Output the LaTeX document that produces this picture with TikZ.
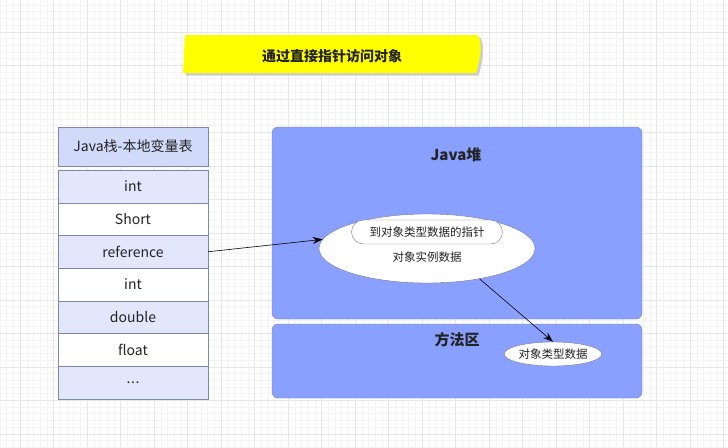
\documentclass[tikz,border=0pt]{standalone}
\usepackage{fontspec}
\setmainfont{Noto Sans CJK SC}
\usetikzlibrary{shapes.geometric, arrows.meta}

\definecolor{textgray}{RGB}{35,35,35}
\definecolor{gridminor}{RGB}{244,244,244}
\definecolor{gridmajor}{RGB}{230,230,230}
\definecolor{bannerfill}{RGB}{255,255,0}
\definecolor{shadowgray}{RGB}{205,205,205}
\definecolor{headfill}{RGB}{210,218,250}
\definecolor{rowlight}{RGB}{226,231,251}
\definecolor{stackline}{RGB}{128,134,170}
\definecolor{heapfill}{RGB}{138,160,255}
\definecolor{heapline}{RGB}{118,128,190}
\definecolor{ellline}{RGB}{120,120,140}

\newcommand\rowdots{.\kern0.6pt.\kern0.6pt.}

\begin{document}
\begin{tikzpicture}[
  x=1pt, y=-1pt,
  every node/.style={inner sep=0pt, text=textgray},
  cell/.style={draw=stackline, minimum width=150pt, minimum height=32.7pt,
    font=\fontsize{14}{16}\selectfont},
  region/.style={draw=heapline, fill=heapfill, rounded corners=6pt, minimum width=370pt},
  heading/.style={font=\bfseries\fontsize{15}{18}\selectfont},
  small/.style={font=\fontsize{11.5}{14}\selectfont},
  link/.style={-{Stealth[length=10pt, width=7pt]}, semithick, black},
]
\useasboundingbox (0,0) rectangle (728,447);

% 背景网格
\begin{scope}[shift={(20,31.7)}]
  \draw[gridminor, step=6.7pt] (-20.1,-33.5) grid (710,417);
  \draw[gridmajor, step=33.5pt] (-20.1,-33.5) grid (710,417);
\end{scope}

% 标题条
\fill[shadowgray, shift={(2.5,2.5)}] (185,35) -- (478,35) .. controls (483,45) and (480,60) .. (476,73) -- (183,73) -- cycle;
\fill[bannerfill] (185,35) -- (478,35) .. controls (483,45) and (480,60) .. (476,73) -- (183,73) -- cycle;
\node[font=\bfseries\fontsize{14}{17}\selectfont] (banner) at (332,56) {通过直接指针访问对象};

% Java栈
\node[cell, fill=headfill, minimum height=39pt] (stackhead) at (133,146.5) {Java栈-本地变量表};
\foreach \txt/\col [count=\i] in {int/rowlight, Short/white, reference/rowlight,
    int/white, double/rowlight, float/white, \rowdots/rowlight}
  \node[cell, fill=\col] (row\i) at (133, {170+(\i-0.5)*32.7}) {\txt};

% Java堆 与 方法区
\node[region, minimum height=192pt] (heap) at (457,223) {};
\node[heading] (heaplabel) at (456,155) {Java堆};
\node[region, minimum height=74pt] (method) at (457,361) {};
\node[heading] (methodlabel) at (457,340) {方法区};

% 对象
\node[ellipse, draw=ellline, fill=white, minimum width=216pt, minimum height=69pt] (obj) at (427,248.5) {};
\node[small, draw=ellline, fill=white, rounded corners=12pt, minimum width=151pt, minimum height=24pt] (ptr) at (427,232) {到对象类型数据的指针};
\node[small] (inst) at (427,257) {对象实例数据};
\node[small, ellipse, draw=ellline, fill=white, minimum width=88pt, minimum height=24pt] (cls) at (553,354) {对象类型数据};

% 引用关系
\draw[link] (row3.east) -- (obj.175);
\draw[link] (obj.-30) -- (cls.north);

\end{tikzpicture}
\end{document}
